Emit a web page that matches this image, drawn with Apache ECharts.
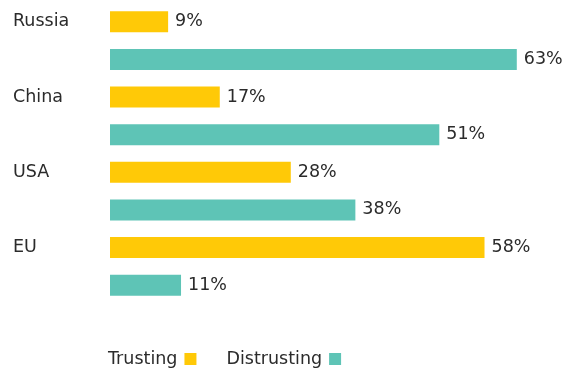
<!DOCTYPE html>
<html>
<head>
<meta charset="utf-8">
<script src="https://cdn.jsdelivr.net/npm/echarts@6/dist/echarts.min.js"></script>
<style>
  html, body { margin: 0; padding: 0; background: #fff; }
  #chart { width: 570px; height: 370px; }
</style>
</head>
<body>
<div id="chart"></div>
<script>
// Share of respondents trusting / distrusting each power
const countries = ['Russia', 'China', 'USA', 'EU'];
const trusting = [9, 17, 28, 58];
const distrusting = [63, 51, 38, 11];

const FONT = '"DejaVu Sans", sans-serif';
const TEXT = '#2b2b2b';
const SIZE = 17.5;
const ROW = 37.6;   // distance between the two bars of one country

const chart = echarts.init(document.getElementById('chart'));

const labelStyle = {
  show: true,
  position: 'right',
  distance: 7,
  formatter: p => p.value + '%',
  color: TEXT,
  fontFamily: FONT,
  fontSize: SIZE
};

chart.setOption({
  animation: false,
  grid: { left: 110, right: 8, top: 3, height: 301 },
  xAxis: {
    type: 'value',
    min: 0,
    max: 70,
    show: false
  },
  yAxis: {
    type: 'category',
    inverse: true,
    data: countries,
    axisLine: { show: false },
    axisTick: { show: false },
    axisLabel: {
      align: 'left',
      margin: 97,
      color: TEXT,
      fontFamily: FONT,
      fontSize: SIZE,
      lineHeight: ROW,
      // second (blank) line lifts the name onto the row of the first bar
      formatter: v => v + '\n '
    }
  },
  legend: {
    left: 103,
    top: 345,
    align: 'right',
    itemWidth: 12,
    itemHeight: 12,
    itemGap: 30,
    icon: 'rect',
    textStyle: { color: TEXT, fontFamily: FONT, fontSize: SIZE, padding: [0, 2, 0, 0] },
    data: ['Trusting', 'Distrusting']
  },
  series: [
    {
      name: 'Trusting',
      type: 'bar',
      data: trusting,
      barWidth: 21,
      barGap: '79%',
      itemStyle: { color: '#FFC907' },
      label: labelStyle
    },
    {
      name: 'Distrusting',
      type: 'bar',
      data: distrusting,
      barWidth: 21,
      barGap: '79%',
      itemStyle: { color: '#5EC4B6' },
      label: labelStyle
    }
  ]
});
</script>
</body>
</html>
